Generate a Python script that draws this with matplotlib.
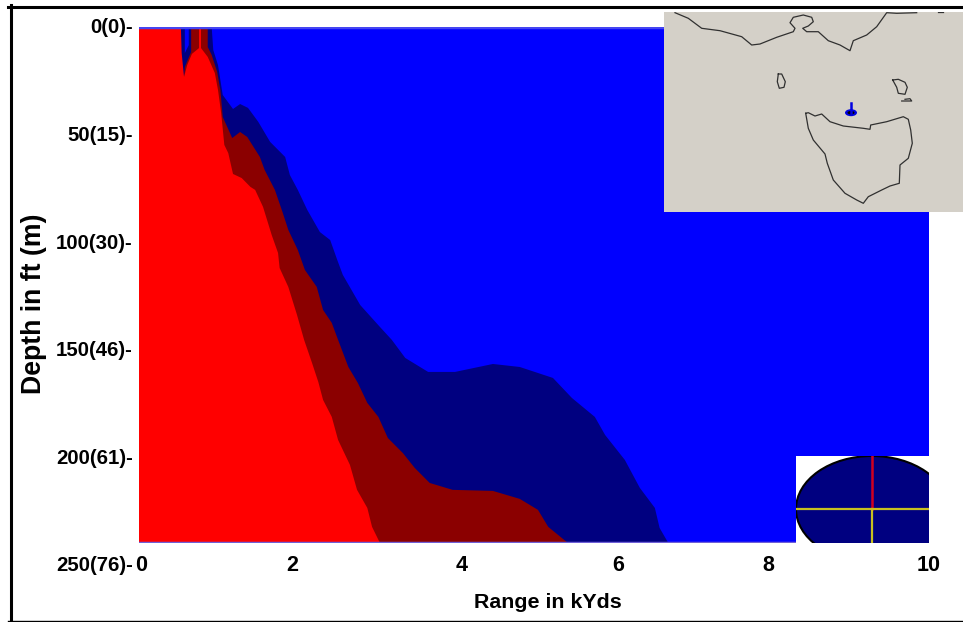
import matplotlib
matplotlib.use("Agg")
import matplotlib.pyplot as plt
from matplotlib.lines import Line2D
from matplotlib.patches import Ellipse

plt.rcParams['font.family'] = ['Liberation Sans', 'DejaVu Sans']

# bottom of the picture is a bit above the 250 ft label
depth_max = 239.8

# loss zones, range in kYds / depth in ft
red_range = [0, 0.53, 0.54, 0.57, 0.61, 0.67, 0.76, 0.76, 0.785, 0.785, 0.87, 0.96, 1.0, 1.04, 1.08, 1.13, 1.19,
             1.30, 1.41, 1.47, 1.57, 1.68, 1.76, 1.78, 1.89, 2.0, 2.09, 2.19, 2.27, 2.33, 2.44, 2.52, 2.67,
             2.76, 2.89, 2.95, 3.05, 0]
red_depth = [0, 0, 12.1, 23.2, 17.7, 12.5, 9.8, 0, 0, 9.8, 13.9, 21.4, 29.3, 40, 54.8, 58.6, 68.3,
             70.2, 74.3, 75.7, 83.6, 96.7, 105, 112, 120.8, 133.8, 145.4, 156.1, 165, 173.3, 181.2, 191.9, 203.5,
             215.1, 223.5, 232.3, 239.8, 239.8]

darkred_range = [0.57, 0.58, 0.66, 0.66, 0.87, 0.87, 0.92, 0.99, 1.03, 1.06, 1.18, 1.28, 1.37, 1.53, 1.59, 1.72,
                 1.82, 1.89, 2.01, 2.10, 2.25, 2.33, 2.44, 2.52, 2.65, 2.77, 2.89, 3.03, 3.15, 3.34, 3.49, 3.68,
                 3.97, 4.48, 4.82, 5.05, 5.18, 5.43, 0]
darkred_depth = [23.2, 18.6, 11.6, 0, 0, 9.3, 13, 20.9, 29.3, 41.8, 51.6, 48.8, 51.1, 60.4, 66.4, 75.7,
                 86.4, 94.3, 103.6, 112.9, 120.8, 131.5, 137.5, 145.4, 158, 165.4, 174.7, 181.2, 191, 198, 204.9, 211.9,
                 215.1, 215.6, 219.3, 224.4, 232.3, 239.8, 239.8]

navy_range = [0.53, 0.92, 0.94, 1.0, 1.06, 1.19, 1.28, 1.38, 1.51, 1.66, 1.85, 1.91, 2.01, 2.13, 2.29, 2.42, 2.51,
              2.58, 2.80, 3.05, 3.20, 3.37, 3.66, 4.0, 4.48, 4.82, 5.24, 5.48, 5.77, 5.90, 6.15, 6.34, 6.53,
              6.59, 6.70, 0]
navy_depth = [0, 0, 10.7, 17.7, 31.6, 38.1, 35.8, 37.6, 44.1, 53.4, 60.4, 68.8, 75.7, 85, 95.3, 99, 108.3,
              115.2, 129.2, 139.4, 145.4, 153.8, 160.3, 160.3, 156.6, 158, 163.1, 172.4, 181.2, 189.6, 201.2, 214.2, 223.5,
              232.8, 239.8, 239.8]

gap_range = [0.58, 0.63, 0.63, 0.58]
gap_depth = [0, 0, 8.4, 12.1]

depth_ticks = [0, 50, 100, 150, 200, 250]
depth_labels = ["0(0)-", "50(15)-", "100(30)-", "150(46)-", "200(61)-", "250(76)-"]
range_label_pos = [0.03, 1.94, 4.09, 6.06, 7.96, 9.99]
range_labels = ["0", "2", "4", "6", "8", "10"]

# map outline, in map pixels
coast_x = [11, 24.3, 37.7, 56, 77.7, 87.7, 96, 112.7, 129.3, 131, 126, 129.3, 139.3, 147.7, 149.3, 144.3, 138.7,
           142.7, 154.3, 164.3, 176, 186, 189.3, 202.7, 212.7, 222.7, 232.7, 252.7]
coast_y = [0.7, 6.3, 16.3, 18.7, 24.7, 33, 32, 25.3, 19.7, 16.3, 10.7, 5.3, 3, 5.3, 9.7, 14, 16.3,
           19.7, 19.7, 28.7, 33, 38.7, 28.7, 23, 14.7, 0.7, 1.3, 0.7]
coast2_x = [274.3, 279.3]
coast2_y = [0.3, 0.3]
king_x = [114.3, 113.3, 115.3, 120, 121.3, 117.7, 114.3]
king_y = [62, 69.7, 76.3, 75.3, 69.7, 62, 62]
flinders_x = [228.7, 232.7, 234.3, 241, 243.3, 241, 234.3, 228.7]
flinders_y = [68, 75.3, 81.3, 82.3, 75.3, 70.3, 67.3, 68]
islet_x = [237.7, 247.7, 246, 241]
islet_y = [89, 89, 86.7, 87.3]
tas_x = [141.7, 144.3, 151, 157.7, 166, 179.3, 199.3, 206, 206.7, 222.7, 239.3, 244.3, 246.7, 248.3, 244.3, 236,
         235.3, 226, 217.7, 204.3, 199.3, 192.7, 181, 169.3, 163.3, 161, 149.3, 144.3, 141.7]
tas_y = [101.3, 100.7, 104, 102, 109.7, 114, 116.3, 117.3, 113, 109.7, 104.7, 107.3, 118, 131.3, 146.3, 153,
         171.3, 174, 178, 184.7, 191.3, 188, 181.3, 168, 151.3, 142, 128, 116.3, 101.3]

W, H = 963, 622
fig = plt.figure(figsize=(W / 100, H / 100), dpi=100, facecolor="white")

def box(x0, y0, x1, y1):
    return [x0 / W, 1 - y1 / H, (x1 - x0) / W, (y1 - y0) / H]

ax = fig.add_axes(box(139, 27, 929, 543), facecolor="#0000ff")
ax.fill(navy_range, navy_depth, color="#000080", lw=0)
ax.fill(gap_range, gap_depth, color="#0000ff", lw=0)
ax.fill(darkred_range, darkred_depth, color="#8b0000", lw=0)
ax.fill(red_range, red_depth, color="#ff0000", lw=0)
ax.set_xlim(0, 10)
ax.set_ylim(depth_max, 0)
ax.set_xticks([])
ax.set_yticks([])
for side in ax.spines:
    ax.spines[side].set_visible(False)
ax.axhline(0, color="#4545f0", lw=2.5, clip_on=True)
ax.axhline(depth_max, color="#7060d8", lw=2.5, clip_on=True)

for d, lab in zip(depth_ticks, depth_labels):
    ax.text(-0.08, d + 0.4, lab, ha="right", va="center", fontsize=14.7, fontweight="bold", clip_on=False)
for r, lab in zip(range_label_pos, range_labels):
    ax.text(r, 250.4, lab, ha="center", va="center", fontsize=15.5, fontweight="bold", clip_on=False)

fig.text(548 / W, 1 - 603 / H, "Range in kYds", ha="center", va="center", fontsize=15.4, fontweight="bold")
fig.text(34 / W, 1 - 304 / H, "Depth in ft (m)", rotation=90, ha="center", va="center", fontsize=19.2, fontweight="bold")

# map in the top right corner
mp = fig.add_axes(box(664, 12, 963, 212), facecolor="#d4d0c8")
mp.set_xlim(0, 299)
mp.set_ylim(200, 0)
mp.set_xticks([])
mp.set_yticks([])
for side in mp.spines:
    mp.spines[side].set_visible(False)
for xs, ys in [(coast_x, coast_y), (coast2_x, coast2_y), (king_x, king_y), (flinders_x, flinders_y),
               (islet_x, islet_y), (tas_x, tas_y)]:
    mp.plot(xs, ys, color="#303030", lw=0.9)
mp.plot([187, 187], [91.3, 100.7], color="#0000e0", lw=1.8)
mp.add_patch(Ellipse((187, 100.7), 12, 7, color="#0000e0", lw=0))
mp.add_patch(Ellipse((187, 100.7), 7, 3.5, color="black", lw=0))

# beam pattern in the bottom right corner
bp = fig.add_axes(box(796, 456, 929, 543), facecolor="white")
bp.set_xlim(0, 133)
bp.set_ylim(87, 0)
bp.set_xticks([])
bp.set_yticks([])
for side in bp.spines:
    bp.spines[side].set_visible(False)
bp.add_patch(Ellipse((76, 53), 152, 106, facecolor="#000080", edgecolor="black", lw=1.5))
bp.plot([76, 76], [0, 53], color="#d00020", lw=1.8)
bp.plot([76, 76], [53, 87], color="#c8c020", lw=1.6)
bp.plot([0, 133], [53, 53], color="#c8c020", lw=1.6)

# outer frame
fig.add_artist(Line2D([8 / W, 1], [1 - 6.5 / H] * 2, color="black", lw=2.2))
fig.add_artist(Line2D([10.5 / W] * 2, [1 - 5 / H, 1 - 621 / H], color="black", lw=2.2))
fig.add_artist(Line2D([8 / W, 1], [1 - 621 / H] * 2, color="black", lw=1))

fig.savefig("out.png", dpi=100)
